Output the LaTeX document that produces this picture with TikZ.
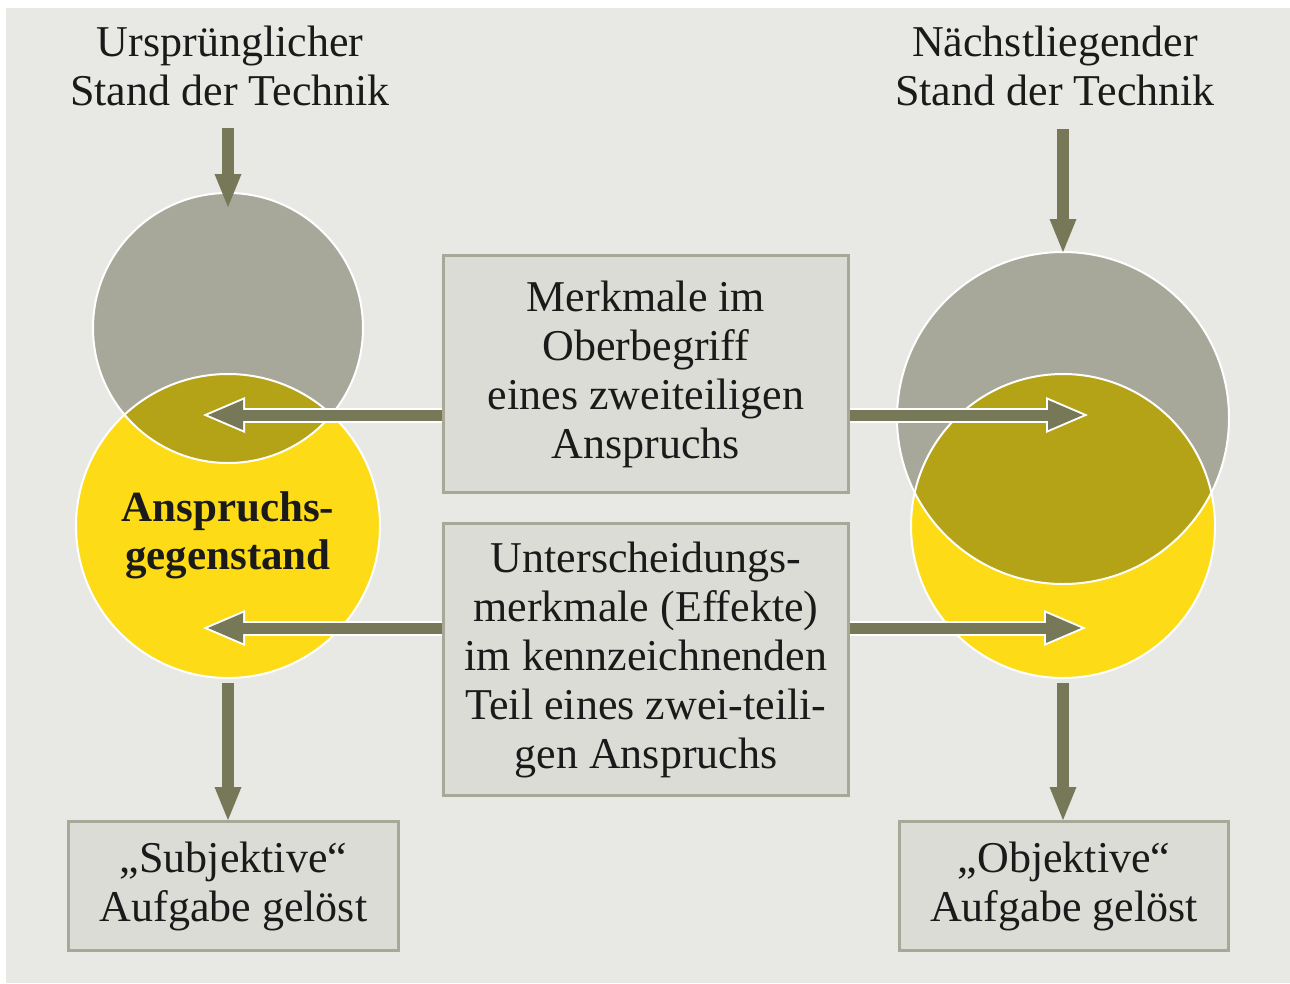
\documentclass[tikz,border=0pt]{standalone}
\usepackage{fontspec}
\setmainfont{Liberation Serif}
\usetikzlibrary{arrows.meta}

\definecolor{bgc}{HTML}{E8E8E5}
\definecolor{greyc}{HTML}{A8A89A}
\definecolor{yelc}{HTML}{FDDC17}
\definecolor{overc}{HTML}{B5A317}
\definecolor{arrowc}{HTML}{767858}
\definecolor{boxfill}{HTML}{DCDCD6}
\definecolor{boxline}{HTML}{A7A898}
\definecolor{inkc}{HTML}{1A1A1A}

\begin{document}
\begin{tikzpicture}[
    x=1pt, y=-1pt,
    txt/.style       = {font=\fontsize{44}{49}\selectfont, align=center,
                        text=inkc},
    boldtxt/.style   = {font=\fontsize{43}{48}\selectfont\bfseries,
                        align=center, text=inkc},
    disc/.style      = {circle, inner sep=0pt, outer sep=0pt},
    rim/.style       = {draw=white, line width=2pt},
    infobox/.style   = {txt, draw=boxline, fill=boxfill, line width=3pt,
                        inner sep=0pt},
    % plain down arrow (no halo)
    downarrow/.style = {draw=arrowc, line width=12pt,
                        -{Triangle[length=33pt, width=27pt, line width=0pt]}},
    % side arrows: white halo first, then olive arrow on top
    sidehalo/.style  = {draw=white, line width=15pt,
                        -{Triangle[length=42pt, width=36pt, line width=0pt]}},
    sidearrow/.style = {draw=arrowc, line width=11pt, shorten >=5pt,
                        -{Triangle[length=35pt, width=30pt, line width=0pt]}},
]

% ============================================================
%  CANVAS
% ============================================================
\useasboundingbox (0,0) rectangle (1290,983);
\fill[white] (0,0) rectangle (1290,983);
\fill[bgc] (6,8) rectangle (1290,983);

% ============================================================
%  HEADINGS
% ============================================================
\node[txt] (headL) at (230,66) {Ursprünglicher\\Stand der Technik};
\node[txt] (headR) at (1055,66) {Nächstliegender\\Stand der Technik};

% ----------------------------------------------------------
%  LEFT PAIR  --  grey on top of yellow
% ----------------------------------------------------------
\node[disc, fill=yelc, minimum size=304pt] (yelL) at (228,526) {};
\node[disc, fill=greyc, minimum size=270pt] (greyL) at (228,328) {};
\begin{scope}
  \clip (greyL.center) circle [radius=135pt];
  \fill[overc] (yelL.center) circle [radius=152pt];
\end{scope}
\draw[rim] (yelL.center) circle [radius=152pt];
\draw[rim] (greyL.center) circle [radius=135pt];
\node[boldtxt] (gegen) at (228,535) {Anspruchs-\\gegenstand};

% ----------------------------------------------------------
%  RIGHT PAIR  --  large grey over yellow
% ----------------------------------------------------------
\node[disc, fill=yelc, minimum size=304pt] (yelR) at (1063,526) {};
\node[disc, fill=greyc, minimum size=332pt] (greyR) at (1063,418) {};
\begin{scope}
  \clip (greyR.center) circle [radius=166pt];
  \fill[overc] (yelR.center) circle [radius=152pt];
\end{scope}
\draw[rim] (yelR.center) circle [radius=152pt];
\draw[rim] (greyR.center) circle [radius=166pt];

% ============================================================
%  BOXES
% ============================================================
\node[infobox, minimum width=405pt, minimum height=237pt] (merk)
    at (646,374) {Merkmale im\\Oberbegriff\\eines zweiteiligen\\Anspruchs};
\node[infobox, minimum width=405pt, minimum height=272pt] (unter)
    at (646,659.5) {Unterscheidungs-\\merkmale (Effekte)\\im kennzeichnenden\\Teil eines zwei-teili-\\gen Anspruchs};
\node[infobox, minimum width=330pt, minimum height=129pt] (subj)
    at (233.5,886) {„Subjektive“\\Aufgabe gelöst};
\node[infobox, minimum width=329pt, minimum height=129pt] (obj)
    at (1064,886) {„Objektive“\\Aufgabe gelöst};

% ============================================================
%  ARROWS
% ============================================================
% into the grey circles
\coordinate (inL) at (228,128);
\coordinate (inR) at (1063,129);
\draw[downarrow] (inL) -- ([yshift=-14pt]greyL.north);
\draw[downarrow] (inR) -- (greyR.north);

% out of the yellow circles
\draw[downarrow] ([yshift=-5pt]yelL.south) -- (subj.north -| yelL.south);
\draw[downarrow] ([yshift=-5pt]yelR.south) -- (obj.north -| yelR.south);

% from the middle boxes into the circles
\coordinate (tipA) at (203,415);
\coordinate (tipB) at (1088,415);
\coordinate (tipC) at (203,628);
\coordinate (tipD) at (1086,628);
\foreach \from/\to in {merk.west/tipA, merk.east/tipB,
                       unter.west/tipC, unter.east/tipD}{
  \draw[sidehalo] (\from |- \to) -- (\to);
  \draw[sidearrow] (\from |- \to) -- (\to);
}

\end{tikzpicture}
\end{document}
